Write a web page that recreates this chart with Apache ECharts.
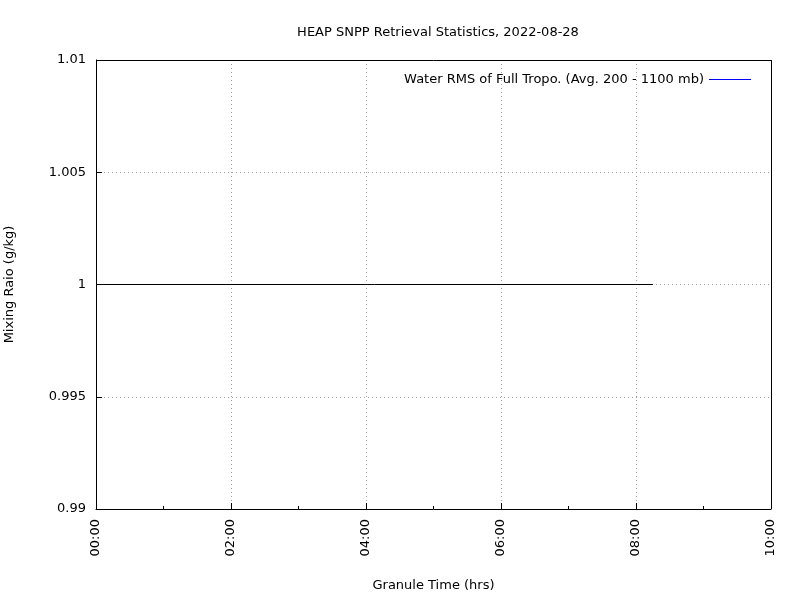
<!DOCTYPE html>
<html>
  <head>
    <meta charset="utf-8" />
    <title>HEAP SNPP Retrieval Statistics</title>
    <script src="https://cdn.jsdelivr.net/npm/echarts@6/dist/echarts.min.js"></script>
  </head>
  <body style="margin:0">
    <div id="main" style="width:800px;height:600px;"></div>
    <script type="text/javascript">
      // granule time (hrs) and water RMS (g/kg)
      const times = [0, 8.25];
      const waterRms = [1, 1];
      const legendName = "Water RMS of Full Tropo. (Avg. 200 - 1100 mb)";

      const font = "DejaVu Sans";
      const chart = echarts.init(document.getElementById("main"));
      const dotted = { show: true, lineStyle: { color: "#a0a0a0", type: [1, 3], width: 1 } };

      chart.setOption({
        animation: false,
        backgroundColor: "#fff",
        textStyle: { fontFamily: font },
        title: {
          text: "HEAP SNPP Retrieval Statistics, 2022-08-28",
          left: 433, top: 21, textAlign: "center",
          textStyle: { fontSize: 13, fontWeight: "normal", color: "#000", fontFamily: font },
        },
        grid: { left: 96, right: 29, top: 60, bottom: 91, containLabel: false, outerBoundsMode: "none" },
        legend: {
          data: [legendName], right: 44, top: 68, align: "right",
          icon: "rect", itemWidth: 42, itemHeight: 1, itemGap: 10,
          textStyle: { fontSize: 13, color: "#000", fontFamily: font },
        },
        xAxis: {
          type: "value", min: 0, max: 10, interval: 2,
          name: "Granule Time (hrs)", nameLocation: "middle", nameGap: 70,
          nameTextStyle: { fontSize: 13, color: "#000" },
          axisLine: { show: true, onZero: false, lineStyle: { color: "#000" } },
          axisTick: { inside: true, length: 6, lineStyle: { color: "#000" } },
          minorTick: { show: true, splitNumber: 2, length: 3, lineStyle: { color: "#000" } },
          splitLine: dotted,
          axisLabel: {
            rotate: 90, fontSize: 13, color: "#000", margin: 10,
            formatter: v => String(v).padStart(2, "0") + ":00",
          },
        },
        yAxis: {
          type: "value", min: 0.99, max: 1.01, interval: 0.005,
          name: "Mixing Raio (g/kg)", nameLocation: "middle", nameGap: 80,
          nameTextStyle: { fontSize: 13, color: "#000" },
          axisLine: { show: true, lineStyle: { color: "#000" } },
          axisTick: { inside: true, length: 6, lineStyle: { color: "#000" } },
          splitLine: dotted,
          axisLabel: {
            fontSize: 13, color: "#000", margin: 10,
            formatter: v => String(parseFloat(v.toFixed(3))),
          },
        },
        series: [
          {
            type: "line", symbol: "none",
            lineStyle: { color: "#000", width: 1 },
            data: times.map((t, i) => [t, waterRms[i]]),
            markLine: {
              silent: true, symbol: "none", label: { show: false },
              lineStyle: { color: "#000", type: "solid", width: 1 },
              data: [{ xAxis: 10 }, { yAxis: 1.01 }],
            },
          },
          {
            name: legendName, type: "line", symbol: "none",
            itemStyle: { color: "#0000ff" },
            lineStyle: { color: "#0000ff", width: 1 },
            data: [],
          },
        ],
      });
    </script>
  </body>
</html>
